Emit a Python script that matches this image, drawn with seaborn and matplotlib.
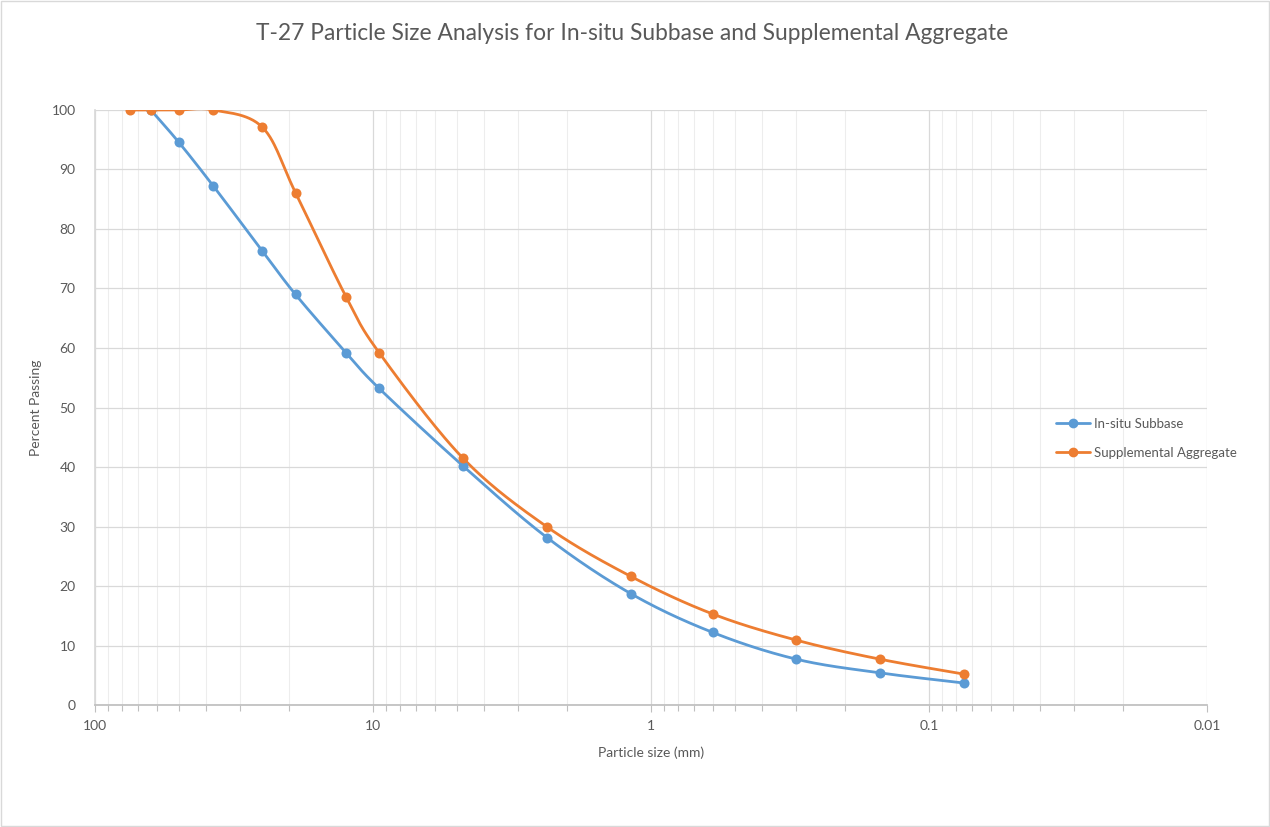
import numpy as np
import pandas as pd
import matplotlib
matplotlib.use("Agg")
import matplotlib.pyplot as plt
from matplotlib.lines import Line2D
from matplotlib.patches import Rectangle
from matplotlib.ticker import LogLocator, FixedLocator, NullFormatter
import seaborn as sns

# sieve sizes (mm) and percent passing
sieve_insitu = [63, 50, 37.5, 25, 19, 12.5, 9.5, 4.75, 2.36, 1.18, 0.6, 0.3, 0.15, 0.075]
pass_insitu = [100, 94.6, 87.2, 76.3, 69.0, 59.2, 53.2, 40.2, 28.1, 18.7, 12.2, 7.7, 5.4, 3.7]

sieve_supp = [75, 63, 50, 37.5, 25, 19, 12.5, 9.5, 4.75, 2.36, 1.18, 0.6, 0.3, 0.15, 0.075]
pass_supp = [100, 100, 100, 100, 97.1, 86.1, 68.6, 59.2, 41.5, 29.9, 21.6, 15.3, 10.9, 7.7, 5.2]

series_names = ["In-situ Subbase", "Supplemental Aggregate"]
colors = ["#5b9bd5", "#ed7d31"]


def smooth_curve(xs, ys, n=30):
    # excel-like smoothed line: bezier segments in log-x space
    lx = np.log10(np.asarray(xs, float))
    y = np.asarray(ys, float)
    P = np.column_stack([lx, y])
    pts = []
    for i in range(len(P) - 1):
        p0 = P[i - 1] if i > 0 else P[i]
        p1, p2 = P[i], P[i + 1]
        p3 = P[i + 2] if i + 2 < len(P) else P[i + 1]
        c1 = p1 + (p2 - p0) / 6.0
        c2 = p2 - (p3 - p1) / 6.0
        t = np.linspace(0, 1, n)[:, None]
        seg = ((1 - t) ** 3) * p1 + 3 * ((1 - t) ** 2) * t * c1 + 3 * (1 - t) * t ** 2 * c2 + t ** 3 * p2
        pts.append(seg if i == 0 else seg[1:])
    pts = np.vstack(pts)
    return 10 ** pts[:, 0], pts[:, 1]


sns.set_theme(style="white")
plt.rcParams["font.family"] = ["Lato", "DejaVu Sans"]

fig = plt.figure(figsize=(12.7, 8.27), dpi=100)
ax = fig.add_axes([0.0748, 0.1475, 0.8756, 0.7195])

for xs, ys, name, c in zip([sieve_insitu, sieve_supp], [pass_insitu, pass_supp], series_names, colors):
    sx, sy = smooth_curve(xs, ys)
    curve = pd.DataFrame({"size": sx, "passing": sy})
    pts = pd.DataFrame({"size": xs, "passing": ys})
    sns.lineplot(data=curve, x="size", y="passing", sort=False, color=c, lw=2, ax=ax, zorder=3)
    sns.scatterplot(data=pts, x="size", y="passing", color=c, s=52, edgecolor=c, linewidth=0, ax=ax, zorder=4)

ax.set_xscale("log")
ax.set_xlim(100, 0.01)
ax.set_ylim(0, 100)
ax.set_yticks(np.arange(0, 101, 10))
ax.xaxis.set_major_locator(FixedLocator([100, 10, 1, 0.1, 0.01]))
ax.set_xticklabels(["100", "10", "1", "0.1", "0.01"])
ax.xaxis.set_minor_locator(LogLocator(base=10, subs=np.arange(2, 10)))
ax.xaxis.set_minor_formatter(NullFormatter())

ax.grid(which="major", axis="both", color="#d9d9d9", lw=0.9)
ax.grid(which="minor", axis="x", color="#ededed", lw=0.8)
ax.set_axisbelow(True)

for s in ["top", "right"]:
    ax.spines[s].set_visible(False)
ax.spines["left"].set_color("#d9d9d9")
ax.spines["bottom"].set_color("#bfbfbf")
ax.tick_params(axis="x", which="both", bottom=True, direction="out", length=5, width=0.8,
               color="#bfbfbf", labelsize=10, labelcolor="#595959", pad=6)
ax.tick_params(axis="x", which="minor", length=4)
ax.tick_params(axis="y", left=False, labelsize=10, labelcolor="#595959", pad=8)

ax.set_xlabel("Particle size (mm)", fontsize=10, color="#595959", labelpad=10)
ax.set_ylabel("Percent Passing", fontsize=10, color="#595959")
ax.yaxis.set_label_coords(-0.048, 0.5)

fig.text(0.4976, 0.959, "T-27 Particle Size Analysis for In-situ Subbase and Supplemental Aggregate",
         ha="center", va="center", fontsize=16.4, color="#595959")

handles = [Line2D([0], [0], color=c, lw=2, marker="o", markersize=6) for c in colors]
leg = fig.legend(handles, series_names, loc="center left", bbox_to_anchor=(0.822, 0.470),
                 frameon=False, fontsize=9.5, handlelength=2.6, labelspacing=1.3, handletextpad=0.3)
for t in leg.get_texts():
    t.set_color("#595959")

fig.patches.append(Rectangle((0.001, 0.001), 0.998, 0.998, transform=fig.transFigure,
                             fill=False, edgecolor="#d9d9d9", lw=1))

fig.savefig("out.png", dpi=100)
